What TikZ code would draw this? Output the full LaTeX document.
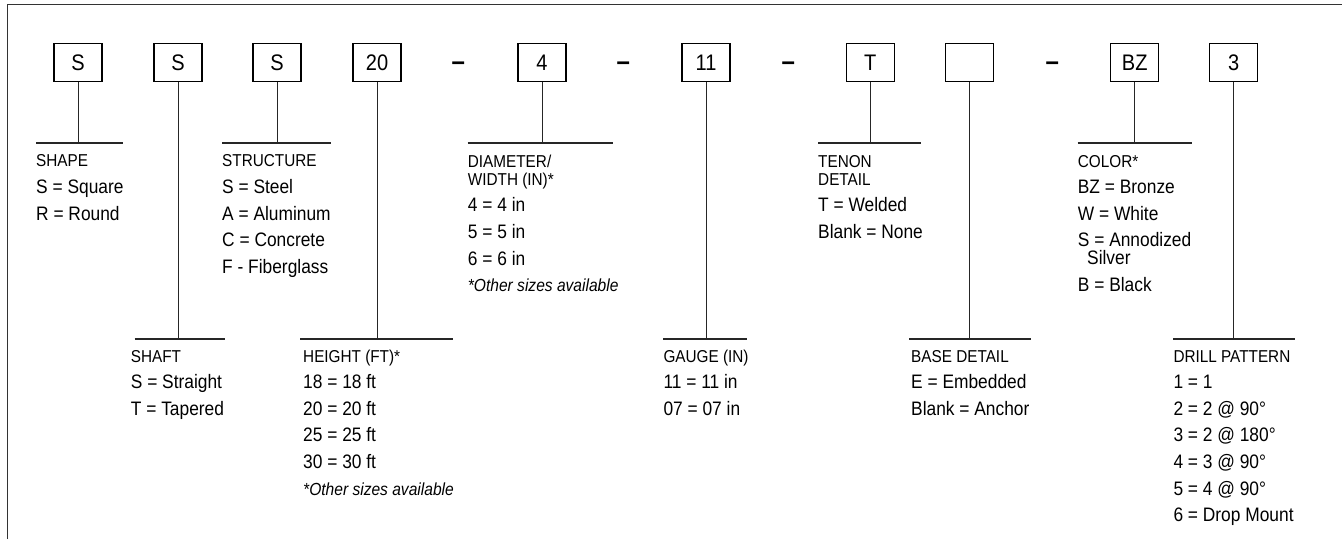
\documentclass[tikz,border=0pt]{standalone}
\usepackage{fontspec}
\setmainfont{Liberation Sans}[FakeStretch=0.89]
\begin{document}
\begin{tikzpicture}[x=1pt,y=-1pt,
  codebox/.style={draw=black, line width=1.2pt, minimum width=48pt, minimum height=38pt, inner sep=0pt, font=\fontsize{22.5}{27}\selectfont},
  sepmark/.style={anchor=base, inner sep=0pt, font=\fontsize{27}{30}\selectfont\bfseries},
  hdr/.style={anchor=base west, inner sep=0pt, font=\fontsize{17.2}{20}\selectfont},
  itm/.style={anchor=base west, inner sep=0pt, font=\fontsize{19.5}{24}\selectfont},
  note/.style={anchor=base west, inner sep=0pt, font=\fontsize{17.5}{20}\selectfont\itshape},
  lead/.style={line width=1pt, draw=black!85},
  bar/.style={line width=1.3pt, draw=black!85}]
\useasboundingbox (0,0) rectangle (1342,539);
\draw[line width=1.5pt, draw=black!80] (7.3,539) -- (7.3,4.5) -- (1342,4.5);

% code boxes
\node[codebox] (b1) at (78,62.5) {S};
\node[codebox] (b2) at (178,62.5) {S};
\node[codebox] (b3) at (277,62.5) {S};
\node[codebox] (b4) at (377,62.5) {20};
\node[codebox] (b5) at (542,62.5) {4};
\node[codebox] (b6) at (706,62.5) {11};
\node[codebox] (b7) at (870.3,62.5) {T};
\node[codebox] (b8) at (969.8,62.5) {};
\node[codebox] (b9) at (1134.7,62.5) {BZ};
\node[codebox] (b10) at (1233.8,62.5) {3};

% separators
\node[sepmark] (s1) at (458.3,70.6) {–};
\node[sepmark] (s2) at (623.3,70.6) {–};
\node[sepmark] (s3) at (788.3,70.6) {–};
\node[sepmark] (s4) at (1052.3,70.6) {–};

% bars
\coordinate (c1) at (78,143);     \coordinate (l1) at (36,143);    \coordinate (r1) at (123,143);
\coordinate (c2) at (178,339);    \coordinate (l2) at (134.7,339); \coordinate (r2) at (225,339);
\coordinate (c3) at (277,143);    \coordinate (l3) at (222,143);   \coordinate (r3) at (331,143);
\coordinate (c4) at (377,339);    \coordinate (l4) at (300,339);   \coordinate (r4) at (453,339);
\coordinate (c5) at (542,143);    \coordinate (l5) at (467.7,143); \coordinate (r5) at (613,143);
\coordinate (c6) at (706,339);    \coordinate (l6) at (663.3,339); \coordinate (r6) at (747.3,339);
\coordinate (c7) at (870.3,143);  \coordinate (l7) at (818,143);   \coordinate (r7) at (920.7,143);
\coordinate (c8) at (969.8,339);  \coordinate (l8) at (909.3,339); \coordinate (r8) at (1030.7,339);
\coordinate (c9) at (1134.7,143); \coordinate (l9) at (1077.7,143);\coordinate (r9) at (1191.7,143);
\coordinate (c10) at (1233.8,339);\coordinate (l10) at (1173.3,339);\coordinate (r10) at (1295,339);
\foreach \i in {1,...,10}{
  \draw[lead] (b\i.south) -- (c\i);
  \draw[bar] (l\i) -- (r\i);
}

% SHAPE
\node[hdr] (t1h) at (36,166.7) {SHAPE};
\node[itm] (t1a) at (36,193.3) {S = Square};
\node[itm] (t1b) at (36,220) {R = Round};
% STRUCTURE
\node[hdr] (t3h) at (222,166.7) {STRUCTURE};
\node[itm] (t3a) at (222,193.3) {S = Steel};
\node[itm] (t3b) at (222,220) {A = Aluminum};
\node[itm] (t3c) at (222,246.7) {C = Concrete};
\node[itm] (t3d) at (222,273.3) {F - Fiberglass};
% DIAMETER
\node[hdr] (t5h) at (467.7,167.7) {DIAMETER/};
\node[hdr] (t5i) at (467.7,185) {WIDTH (IN)*};
\node[itm] (t5a) at (467.7,211.7) {4 = 4 in};
\node[itm] (t5b) at (467.7,238.3) {5 = 5 in};
\node[itm] (t5c) at (467.7,265) {6 = 6 in};
\node[note] (t5n) at (467.7,291.7) {*Other sizes available};
% TENON
\node[hdr] (t7h) at (818,167.7) {TENON};
\node[hdr] (t7i) at (818,185) {DETAIL};
\node[itm] (t7a) at (818,211.7) {T = Welded};
\node[itm] (t7b) at (818,238.3) {Blank = None};
% COLOR
\node[hdr] (t9h) at (1077.7,167.7) {COLOR*};
\node[itm] (t9a) at (1077.7,193.3) {BZ = Bronze};
\node[itm] (t9b) at (1077.7,220) {W = White};
\node[itm] (t9c) at (1077.7,246.2) {S = Annodized};
\node[itm] (t9d) at (1087,264.6) {Silver};
\node[itm] (t9e) at (1077.7,291.7) {B = Black};
% SHAFT
\node[hdr] (t2h) at (130.7,362) {SHAFT};
\node[itm] (t2a) at (130.7,388.3) {S = Straight};
\node[itm] (t2b) at (130.7,415) {T = Tapered};
% HEIGHT
\node[hdr] (t4h) at (303,362) {HEIGHT (FT)*};
\node[itm] (t4a) at (303,388.3) {18 = 18 ft};
\node[itm] (t4b) at (303,415) {20 = 20 ft};
\node[itm] (t4c) at (303,441.7) {25 = 25 ft};
\node[itm] (t4d) at (303,468.3) {30 = 30 ft};
\node[note] (t4n) at (303,495) {*Other sizes available};
% GAUGE
\node[hdr] (t6h) at (663.3,362) {GAUGE (IN)};
\node[itm] (t6a) at (663.3,388.3) {11 = 11 in};
\node[itm] (t6b) at (663.3,415) {07 = 07 in};
% BASE
\node[hdr] (t8h) at (911,362) {BASE DETAIL};
\node[itm] (t8a) at (911,388.3) {E = Embedded};
\node[itm] (t8b) at (911,415) {Blank = Anchor};
% DRILL
\node[hdr] (t10h) at (1173.3,362) {DRILL PATTERN};
\node[itm] (t10a) at (1173.3,388.3) {1 = 1};
\node[itm] (t10b) at (1173.3,415) {2 = 2 @ 90°};
\node[itm] (t10c) at (1173.3,441.7) {3 = 2 @ 180°};
\node[itm] (t10d) at (1173.3,468.3) {4 = 3 @ 90°};
\node[itm] (t10e) at (1173.3,495) {5 = 4 @ 90°};
\node[itm] (t10f) at (1173.3,521.7) {6 = Drop Mount};
\end{tikzpicture}
\end{document}
